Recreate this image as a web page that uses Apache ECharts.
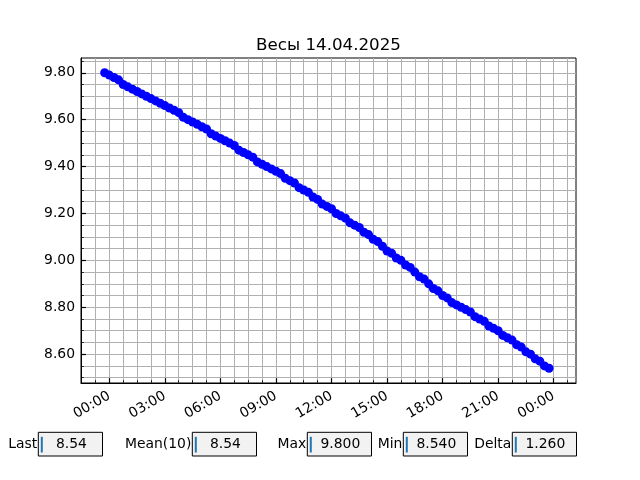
<!DOCTYPE html>
<html>
<head>
<meta charset="utf-8">
<title>Весы 14.04.2025</title>
<script src="https://cdn.jsdelivr.net/npm/echarts@6/dist/echarts.min.js"></script>
<style>
  html, body { margin: 0; padding: 0; background: #fff; }
  #chart { width: 640px; height: 480px; }
</style>
</head>
<body>
<div id="chart"></div>
<script>
// readings, every 15 minutes
const times = [
  '13.04 23:45', '14.04 00:00', '14.04 00:15', '14.04 00:30', '14.04 00:45', '14.04 01:00', '14.04 01:15', '14.04 01:30',
  '14.04 01:45', '14.04 02:00', '14.04 02:15', '14.04 02:30', '14.04 02:45', '14.04 03:00', '14.04 03:15', '14.04 03:30',
  '14.04 03:45', '14.04 04:00', '14.04 04:15', '14.04 04:30', '14.04 04:45', '14.04 05:00', '14.04 05:15', '14.04 05:30',
  '14.04 05:45', '14.04 06:00', '14.04 06:15', '14.04 06:30', '14.04 06:45', '14.04 07:00', '14.04 07:15', '14.04 07:30',
  '14.04 07:45', '14.04 08:00', '14.04 08:15', '14.04 08:30', '14.04 08:45', '14.04 09:00', '14.04 09:15', '14.04 09:30',
  '14.04 09:45', '14.04 10:00', '14.04 10:15', '14.04 10:30', '14.04 10:45', '14.04 11:00', '14.04 11:15', '14.04 11:30',
  '14.04 11:45', '14.04 12:00', '14.04 12:15', '14.04 12:30', '14.04 12:45', '14.04 13:00', '14.04 13:15', '14.04 13:30',
  '14.04 13:45', '14.04 14:00', '14.04 14:15', '14.04 14:30', '14.04 14:45', '14.04 15:00', '14.04 15:15', '14.04 15:30',
  '14.04 15:45', '14.04 16:00', '14.04 16:15', '14.04 16:30', '14.04 16:45', '14.04 17:00', '14.04 17:15', '14.04 17:30',
  '14.04 17:45', '14.04 18:00', '14.04 18:15', '14.04 18:30', '14.04 18:45', '14.04 19:00', '14.04 19:15', '14.04 19:30',
  '14.04 19:45', '14.04 20:00', '14.04 20:15', '14.04 20:30', '14.04 20:45', '14.04 21:00', '14.04 21:15', '14.04 21:30',
  '14.04 21:45', '14.04 22:00', '14.04 22:15', '14.04 22:30', '14.04 22:45', '14.04 23:00', '14.04 23:15', '14.04 23:30',
  '14.04 23:45'
];
const weights = [
  9.80, 9.79, 9.78, 9.77, 9.75, 9.74, 9.73, 9.72,
  9.71, 9.70, 9.69, 9.68, 9.67, 9.66, 9.65, 9.64,
  9.63, 9.61, 9.60, 9.59, 9.58, 9.57, 9.56, 9.54,
  9.53, 9.52, 9.51, 9.50, 9.49, 9.47, 9.46, 9.45,
  9.44, 9.42, 9.41, 9.40, 9.39, 9.38, 9.37, 9.35,
  9.34, 9.33, 9.31, 9.30, 9.29, 9.27, 9.26, 9.24,
  9.23, 9.22, 9.20, 9.19, 9.18, 9.16, 9.15, 9.14,
  9.12, 9.11, 9.09, 9.08, 9.06, 9.04, 9.03, 9.01,
  9.00, 8.98, 8.97, 8.95, 8.93, 8.92, 8.90, 8.88,
  8.87, 8.85, 8.84, 8.82, 8.81, 8.80, 8.79, 8.78,
  8.76, 8.75, 8.74, 8.72, 8.71, 8.70, 8.68, 8.67,
  8.66, 8.64, 8.63, 8.61, 8.60, 8.58, 8.57, 8.55,
  8.54
];

// ticks (x in hours from 14.04 00:00)
const xMajorTicks = [0, 3, 6, 9, 12, 15, 18, 21, 24];
const xMinorTicks = [-0.75, 0, 0.75, 1.5, 2.25, 3, 3.75, 4.5, 5.25, 6, 6.75, 7.5, 8.25, 9, 9.75,
  10.5, 11.25, 12, 12.75, 13.5, 14.25, 15, 15.75, 16.5, 17.25, 18, 18.75, 19.5, 20.25, 21,
  21.75, 22.5, 23.25, 24, 24.75];
const yMajorTicks = [8.6, 8.8, 9.0, 9.2, 9.4, 9.6, 9.8];
const yMinorTicks = [8.5, 8.55, 8.6, 8.65, 8.7, 8.75, 8.8, 8.85, 8.9, 8.95, 9.0, 9.05, 9.1, 9.15,
  9.2, 9.25, 9.3, 9.35, 9.4, 9.45, 9.5, 9.55, 9.6, 9.65, 9.7, 9.75, 9.8, 9.85];

// text boxes under the plot
const boxLabels = ['Last', 'Mean(10)', 'Max', 'Min', 'Delta'];
const boxValues = ['8.54', '8.54', '9.800', '8.540', '1.260'];

const FONT = '"DejaVu Sans", sans-serif';
const toHours = s => (Number(s.slice(0, 2)) - 14) * 24 + Number(s.slice(6, 8)) + Number(s.slice(9, 11)) / 60;
const seriesData = times.map((t, i) => [toHours(t), weights[i]]);

const fmtTime = v => {
  const h = ((Math.round(v) % 24) + 24) % 24;
  return (h < 10 ? '0' : '') + h + ':00';
};

const xMin = -1.528, xMax = 25.204;
const yMin = 8.477, yMax = 9.863;

// text box widgets
const boxLeft = [38.3, 192.3, 307.3, 403.3, 512.3];
const boxW = 64.2, boxTop = 432.3, boxH = 23.7;
const graphics = [];
boxLabels.forEach((lab, i) => {
  const x0 = boxLeft[i];
  graphics.push({
    type: 'text', x: x0 - 1, y: boxTop + boxH / 2,
    style: { text: lab, fill: '#000', font: '13.9px ' + FONT, align: 'right', verticalAlign: 'middle' }
  });
  graphics.push({
    type: 'rect', shape: { x: x0, y: boxTop, width: boxW, height: boxH },
    style: { fill: '#f2f2f2', stroke: '#000', lineWidth: 1 }
  });
  graphics.push({
    type: 'line', shape: { x1: x0 + 3.5, y1: boxTop + 4.5, x2: x0 + 3.5, y2: boxTop + boxH - 3.5 },
    style: { stroke: '#1f77b4', lineWidth: 2 }
  });
  graphics.push({
    type: 'text', x: x0 + boxW / 2 + 1, y: boxTop + boxH / 2,
    style: { text: boxValues[i], fill: '#000', font: '13.9px ' + FONT, align: 'center', verticalAlign: 'middle' }
  });
});

const chart = echarts.init(document.getElementById('chart'), null, { renderer: 'canvas' });
chart.setOption({
  animation: false,
  backgroundColor: '#fff',
  textStyle: { fontFamily: FONT },
  title: {
    text: 'Весы 14.04.2025',
    left: 323.5, top: 32, textAlign: 'center',
    textStyle: { fontSize: 16.7, fontWeight: 'normal', color: '#000', fontFamily: FONT }
  },
  grid: { left: 81, right: 64, top: 58, bottom: 97, show: true, borderColor: '#000', borderWidth: 1, backgroundColor: 'transparent' },
  xAxis: [
    {
      type: 'value', min: xMin, max: xMax, position: 'bottom',
      axisLine: { show: true, onZero: false, lineStyle: { color: '#000', width: 1 } },
      axisTick: { show: true, inside: true, length: 2.8, customValues: xMinorTicks, lineStyle: { color: '#000', width: 0.8 } },
      axisLabel: {
        customValues: xMajorTicks, formatter: fmtTime, rotate: 30, margin: 12,
        fontSize: 13.9, color: '#000', fontFamily: FONT
      },
      splitLine: { show: true, lineStyle: { color: '#b0b0b0', width: 1 } }
    },
    {
      type: 'value', min: xMin, max: xMax, position: 'bottom',
      axisLine: { show: false, onZero: false },
      axisTick: { show: true, inside: true, length: 4.9, customValues: xMajorTicks, lineStyle: { color: '#000', width: 1.2 } },
      axisLabel: { show: false },
      splitLine: { show: false }
    }
  ],
  yAxis: [
    {
      type: 'value', min: yMin, max: yMax, position: 'left',
      axisLine: { show: true, onZero: false, lineStyle: { color: '#000', width: 1 } },
      axisTick: { show: true, inside: true, length: 2.8, customValues: yMinorTicks, lineStyle: { color: '#000', width: 0.8 } },
      axisLabel: {
        customValues: yMajorTicks, formatter: v => v.toFixed(2), margin: 6,
        fontSize: 13.9, color: '#000', fontFamily: FONT
      },
      splitLine: { show: true, lineStyle: { color: '#b0b0b0', width: 1 } }
    },
    {
      type: 'value', min: yMin, max: yMax, position: 'left',
      axisLine: { show: false, onZero: false },
      axisTick: { show: true, inside: true, length: 4.9, customValues: yMajorTicks, lineStyle: { color: '#000', width: 1.2 } },
      axisLabel: { show: false },
      splitLine: { show: false }
    }
  ],
  series: [
    {
      type: 'line',
      data: seriesData,
      symbol: 'circle',
      symbolSize: 9,
      showAllSymbol: true,
      itemStyle: { color: '#0000ff' },
      lineStyle: { color: '#0000ff', width: 2 },
      z: 5
    }
  ],
  graphic: graphics
});
</script>
</body>
</html>
